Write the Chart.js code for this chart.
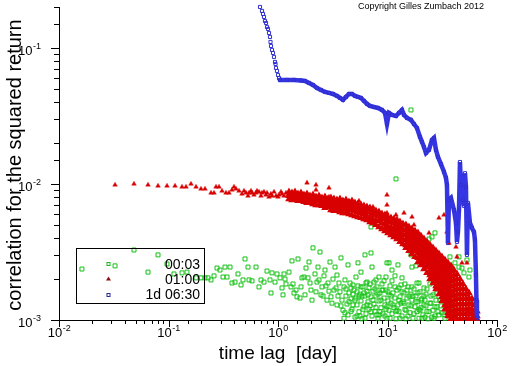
<!DOCTYPE html>
<html>
<head>
<meta charset="utf-8">
<script src="https://cdn.jsdelivr.net/npm/chart.js@4"></script>
<style>
  html, body { margin: 0; padding: 0; background: #fff; }
  canvas { display: block; }
</style>
</head>
<body>
<canvas id="corr-chart" width="512" height="366"></canvas>
<script>
// axis ranges and tick labels
const xRange = [0.01, 100];
const yRange = [0.001, 0.2];
const xTickExp = ['-2', '-1', '0', '1', '2'];
const yTickExp = ['-3', '-2', '-1'];
const seriesLabels = ['00:03', '01:00', '1d 06:30'];

// 00:03 series  [lag (day), correlation]
const green0003 = [
  [0.0162,0.00237],[0.0325,0.00250],[0.0484,0.00327],[0.0650,0.00225],[0.0802,0.00301],[0.0969,0.00258],
  [0.1122,0.00218],[0.1329,0.00222],[0.1475,0.00225],[0.1784,0.00204],[0.1981,0.00204],[0.2155,0.00204],
  [0.2295,0.00204],[0.2445,0.00197],[0.2604,0.00211],[0.2774,0.00241],[0.2954,0.00233],[0.3146,0.00207],
  [0.3281,0.00245],[0.3422,0.00207],[0.3645,0.00245],[0.3802,0.00187],[0.4049,0.00190],[0.4313,0.00218],
  [0.4594,0.00181],[0.4791,0.00197],[0.4997,0.00281],[0.5322,0.00245],[0.5435,0.00197],[0.5789,0.00194],
  [0.6297,0.00245],[0.6706,0.00175],[0.6994,0.00197],[0.7450,0.00190],[0.7935,0.00229],[0.8452,0.00197],
  [0.8632,0.00158],[0.8815,0.00222],[0.9388,0.00190],[0.9792,0.00218],[1.043,0.00204],[1.088,0.00172],
  [1.111,0.00153],[1.1345,0.00218],[1.159,0.00200],[1.183,0.00184],[1.260,0.00225],[1.314,0.00175],
  [1.342,0.00272],[1.371,0.00184],[1.400,0.00158],[1.460,0.00166],[1.491,0.00148],[1.523,0.00281],
  [1.588,0.00145],[1.656,0.00204],[1.727,0.00207],
  [1.802,0.00241],[1.919,0.00267],[1.960,0.00187],[2.001,0.00166],[2.087,0.00339],[2.177,0.00218],
  [2.270,0.00190],[2.319,0.00245],[2.418,0.00316],[2.470,0.00153],[2.522,0.00175],[2.630,0.00211],
  [2.686,0.00233],[2.802,0.00140],[2.861,0.00187],[2.922,0.00163],[2.984,0.00267],[3.047,0.00148],
  [3.112,0.00133],[3.178,0.00200],[3.315,0.00245],[3.385,0.00172],[3.457,0.00214],[3.531,0.00150],
  [3.606,0.00187],
  [1.622,0.00175],[1.764,0.00153],[1.879,0.00204],[2.044,0.00140],[2.223,0.00161],[2.368,0.00197],
  [2.576,0.00150],[2.743,0.00178],[3.246,0.00166],[3.457,0.00129],
  [3.760,0.00286],[4.090,0.00197],[4.357,0.00254],[4.640,0.00172],[4.840,0.00129],[5.155,0.00207],
  [5.376,0.00263],[5.726,0.00225],[6.228,0.00301],[6.496,0.00190],[7.066,0.00311],[7.216,0.00245],
  [7.066,0.00483],[7.849,0.00197],[8.360,0.00207],[8.904,0.00166],[9.685,0.00207],[9.891,0.00263],
  [3.682,0.00161],[3.840,0.00140],[3.922,0.00118],[4.005,0.00175],[4.177,0.00150],[4.266,0.00131],
  [4.357,0.00109],[4.449,0.00158],[4.544,0.00187],[4.640,0.00143],[4.739,0.00120],[4.942,0.00166],
  [5.047,0.00105],[5.155,0.00145],[5.264,0.00129],[5.376,0.00178],[5.490,0.00115],[5.607,0.00155],
  [5.726,0.00138],[5.848,0.00102],[5.972,0.00175],[6.099,0.00125],[6.228,0.00150],[6.361,0.00111],
  [6.496,0.00163],[6.634,0.00136],[6.775,0.00120],[6.919,0.00184],[7.066,0.00148],[7.216,0.00107],
  [7.369,0.00163],[7.526,0.00131],[7.686,0.00116],[7.849,0.00150],[8.016,0.00175],[8.186,0.00103],
  [8.360,0.00138],[8.537,0.00158],[8.719,0.00123],[8.904,0.00184],[9.093,0.00111],[9.286,0.00145],
  [9.484,0.00129],[9.685,0.00166],[9.891,0.00103],[10.10,0.00138],[10.32,0.00153],[10.32,0.00118],
  [4.090,0.00113],[4.840,0.00155],[5.264,0.00107],[5.848,0.00150],[6.361,0.00187],[6.919,0.00127],
  [7.686,0.00169],[8.360,0.00109],[9.286,0.00194],[9.891,0.00125],
  [3.760,0.00127],[4.005,0.00103],[4.177,0.00169],[4.449,0.00136],[4.640,0.00116],[4.840,0.00181],
  [5.047,0.00140],[5.264,0.00161],[5.490,0.00150],[5.607,0.00107],[5.726,0.00175],[5.972,0.00120],
  [6.099,0.00158],[6.228,0.00103],[6.496,0.00129],[6.634,0.00153],[6.775,0.00172],[7.066,0.00115],
  [7.369,0.00140],[7.526,0.00190],[7.849,0.00123],[8.016,0.00109],[8.186,0.00155],[8.537,0.00115],
  [8.719,0.00140],[9.093,0.00166],[9.484,0.00107],[9.685,0.00120],[10.10,0.00161],
  [10.32,0.00263],[10.99,0.00233],[11.70,0.00211],[11.95,0.01089],[12.46,0.00254],[12.73,0.00172],
  [13.56,0.00204],[16.38,0.0350],[16.38,0.00301],[16.73,0.00245],[18.20,0.00250],[19.38,0.00187],
  [21.53,0.00172],[23.92,0.00222],[24.43,0.00184],[23.92,0.00394],[25.47,0.00408],[27.13,0.00437],
  [21.99,0.00140],[28.30,0.00125],[29.51,0.00148],[29.51,0.00109],[32.78,0.00109],[34.19,0.00140],
  [10.54,0.00178],[10.76,0.00133],[10.99,0.00111],[11.22,0.00158],[11.46,0.00123],[11.70,0.00145],
  [11.95,0.00102],[12.21,0.00166],[12.46,0.00129],[12.73,0.00115],[13.00,0.00148],[13.28,0.00181],
  [13.56,0.00107],[13.85,0.00136],[14.14,0.00158],[14.44,0.00120],[14.75,0.00102],[15.06,0.00145],
  [15.38,0.00175],[15.71,0.00129],[16.04,0.00113],[16.38,0.00155],[16.73,0.00140],[17.09,0.00103],
  [17.45,0.00169],[17.82,0.00125],[18.20,0.00150],[18.59,0.00115],[18.98,0.00136],[19.38,0.00103],
  [19.79,0.00161],[20.21,0.00123],[20.64,0.00143],[21.08,0.00109],[21.53,0.00129],[22.46,0.00155],
  [22.93,0.00116],[23.42,0.00102],[24.43,0.00133],[24.94,0.00150],[26.02,0.00118],[26.57,0.00103],
  [27.71,0.00140],[28.90,0.00115],
  [10.99,0.00194],[12.21,0.00118],[13.28,0.00133],[14.44,0.00184],[15.38,0.00107],[17.09,0.00150],
  [18.59,0.00187],[19.79,0.00118],[21.99,0.00105],[25.47,0.00105],[27.13,0.00125],
  [10.54,0.00103],[10.76,0.00150],[11.22,0.00129],[11.70,0.00175],[11.95,0.00116],[12.73,0.00140],
  [13.00,0.00103],[13.56,0.00161],[14.14,0.00133],[14.75,0.00118],[15.06,0.00166],[15.71,0.00150],
  [16.38,0.00127],[16.73,0.00175],[17.45,0.00111],[18.20,0.00136],[18.98,0.00158],[19.38,0.00120],
  [20.21,0.00140],[20.64,0.00103],[21.53,0.00150],[22.46,0.00127],[22.93,0.00169],[23.92,0.00115],
  [24.94,0.00133],[26.02,0.00153],[27.13,0.00107],[28.30,0.00158],[30.14,0.00140],[31.43,0.00113],
  [34.19,0.00161],[34.92,0.00120],[37.19,0.00136],[38.79,0.00107],[41.31,0.00158],
  [30.78,0.00127],[32.10,0.00161],[33.48,0.00103],[35.66,0.00140],[37.19,0.00291],[37.98,0.00245],
  [40.45,0.00118],[41.31,0.00263],[43.09,0.00150],[44.94,0.00291],[44.94,0.00245],[46.87,0.00131],
  [47.86,0.00241],[49.92,0.00222],[50.98,0.00107],[53.17,0.00276],[55.45,0.00207],[56.63,0.00233],
  [59.06,0.00140],[61.60,0.00115]
];

// 01:00 series, sparse part and outliers  [lag, correlation]
const red0100 = [
  [0.0325,0.00985],[0.0484,0.0100],[0.0650,0.00985],[0.0802,0.00968],[0.0969,0.00968],[0.1147,0.00968],
  [0.1329,0.00952],[0.1445,0.00952],[0.1605,0.0100],[0.1784,0.00952],[0.1981,0.00920],[0.2155,0.00920],
  [0.2445,0.00860],[0.2604,0.00860],[0.2716,0.00952],[0.2893,0.00952],[0.3081,0.00889],[0.3351,0.00860],
  [0.3570,0.00860],[0.3802,0.00904],[0.3965,0.00952],[0.4135,0.00920],[0.4405,0.00889],[0.4691,0.00845],
  [0.4893,0.00889],[0.5103,0.00860],[0.5322,0.00817],[0.5434,0.00860],[0.5669,0.00889],[0.5789,0.00860],
  [0.6037,0.00831],[0.6297,0.00860],[0.6430,0.00889],[0.6706,0.00874],[0.6993,0.00817],[0.7143,0.00860],
  [0.7450,0.00874],[0.7770,0.00831],[0.7940,0.00860],[0.8277,0.00803],[0.8625,0.00845],[0.8815,0.00817],
  [0.9193,0.00874],[0.9588,0.00817],[1.000,0.00803],[1.021,0.00831],[1.065,0.00874],[1.088,0.00845],
  [1.1345,0.00817],[1.183,0.00860],[1.234,0.00831],
  [1.840,0.0102],[2.223,0.00985],[2.223,0.00904],[2.922,0.00936],[2.922,0.00803],[4.090,0.00738],
  [5.490,0.00751],[7.369,0.00678],[9.891,0.00831],[9.891,0.00701],[9.891,0.00612],[11.95,0.00592],
  [14.14,0.00612],[16.73,0.00572],[17.45,0.00500],[23.92,0.00436],[29.51,0.00563],[32.78,0.00592],
  [34.92,0.00444],[36.42,0.00368],[42.19,0.00344],[43.09,0.00291],[47.86,0.00263],[53.17,0.00263]
];

// 01:00 series, dense band: correlations read at each lag
const redBandLag = [
  1.260, 1.342, 1.430, 1.523, 1.622, 1.727, 1.840, 1.960, 2.087, 2.223, 2.368, 2.522, 2.686, 2.861,
  3.047, 3.246, 3.457, 3.682, 3.922, 4.177, 4.449, 4.739, 5.047, 5.376, 5.726, 6.099, 6.496, 6.919,
  7.369, 7.849, 8.360, 8.904, 9.484, 10.10, 10.76, 11.46, 12.21, 13.00, 13.85, 14.75, 15.71, 16.73,
  17.82, 18.98, 20.21, 21.53, 22.93, 24.43, 26.02, 27.71, 29.51, 31.43, 33.48, 35.66, 37.98, 40.45,
  43.09, 45.89, 48.88, 52.06, 55.45, 59.06, 62.91, 65.61
];
const redBandCorr = [
  [0.00874,0.00817,0.00776], [0.00860,0.00803,0.00763], [0.00874,0.00831,0.00776],
  [0.00845,0.00803,0.00751], [0.00860,0.00817,0.00763], [0.00831,0.00790,0.00738],
  [0.00845,0.00776,0.00726], [0.00817,0.00763,0.00726], [0.00831,0.00776,0.00713],
  [0.00803,0.00751,0.00701], [0.00817,0.00763,0.00701], [0.00790,0.00738,0.00690],
  [0.00803,0.00751,0.00701,0.00667], [0.00776,0.00726,0.00678],
  [0.00790,0.00738,0.00690,0.00644], [0.00776,0.00726,0.00678,0.00634],
  [0.00763,0.00713,0.00667,0.00634], [0.00776,0.00726,0.00678,0.00623],
  [0.00751,0.00701,0.00655,0.00612], [0.00763,0.00713,0.00667,0.00612],
  [0.00738,0.00690,0.00644,0.00602], [0.00751,0.00701,0.00655,0.00592],
  [0.00726,0.00678,0.00634,0.00582], [0.00713,0.00667,0.00623,0.00572],
  [0.00701,0.00655,0.00612,0.00563], [0.00690,0.00644,0.00602,0.00553],
  [0.00678,0.00634,0.00582,0.00544], [0.00667,0.00623,0.00572,0.00526],
  [0.00644,0.00602,0.00553,0.00517], [0.00634,0.00592,0.00544,0.00500],
  [0.00623,0.00582,0.00535,0.00483], [0.00602,0.00563,0.00517,0.00467],
  [0.00592,0.00553,0.00508,0.00475,0.00451], [0.00572,0.00535,0.00491,0.00459,0.00436],
  [0.00563,0.00526,0.00483,0.00451,0.00422], [0.00553,0.00517,0.00475,0.00436,0.00408],
  [0.00544,0.00500,0.00459,0.00422,0.00394], [0.00526,0.00483,0.00444,0.00408,0.00375],
  [0.00508,0.00467,0.00429,0.00394,0.00362], [0.00500,0.00459,0.00422,0.00388,0.00356,0.00339],
  [0.00483,0.00444,0.00408,0.00375,0.00344,0.00322], [0.00467,0.00429,0.00394,0.00362,0.00333,0.00306],
  [0.00451,0.00415,0.00381,0.00350,0.00322,0.00291],
  [0.00436,0.00401,0.00368,0.00339,0.00311,0.00286,0.00267],
  [0.00415,0.00381,0.00350,0.00322,0.00296,0.00272,0.00254],
  [0.00394,0.00362,0.00333,0.00306,0.00281,0.00258,0.00237],
  [0.00375,0.00344,0.00316,0.00291,0.00267,0.00245,0.00222],
  [0.00356,0.00327,0.00301,0.00276,0.00254,0.00233,0.00214,0.00200],
  [0.00339,0.00311,0.00286,0.00263,0.00241,0.00222,0.00204,0.00187],
  [0.00322,0.00296,0.00272,0.00250,0.00229,0.00211,0.00194,0.00178,0.00169],
  [0.00306,0.00281,0.00258,0.00237,0.00218,0.00200,0.00184,0.00169,0.00155],
  [0.00291,0.00267,0.00245,0.00225,0.00207,0.00190,0.00175,0.00161,0.00148,0.00138],
  [0.00276,0.00254,0.00233,0.00214,0.00197,0.00181,0.00166,0.00153,0.00140,0.00129,0.00120],
  [0.00263,0.00241,0.00222,0.00204,0.00187,0.00172,0.00158,0.00145,0.00133,0.00122,0.00113,0.00107],
  [0.00250,0.00229,0.00211,0.00194,0.00178,0.00163,0.00150,0.00138,0.00127,0.00116,0.00107,0.00102],
  [0.00233,0.00214,0.00197,0.00181,0.00166,0.00153,0.00140,0.00129,0.00118,0.00109,0.00102],
  [0.00218,0.00200,0.00184,0.00169,0.00155,0.00143,0.00131,0.00120,0.00111,0.00102],
  [0.00200,0.00184,0.00169,0.00155,0.00143,0.00131,0.00120,0.00111,0.00102],
  [0.00184,0.00169,0.00155,0.00143,0.00131,0.00120,0.00111,0.00102],
  [0.00169,0.00155,0.00143,0.00131,0.00120,0.00111,0.00102],
  [0.00158,0.00145,0.00133,0.00122,0.00113,0.00103],
  [0.00143,0.00131,0.00120,0.00111,0.00102],
  [0.00129,0.00118,0.00109,0.00102],
  [0.00116,0.00107,0.00102]
];

// 1d 06:30 series: steep start, then the dense tail
const blueSteep = [
  [0.6849,0.2001],[0.7143,0.1871],[0.7295,0.1778],[0.7450,0.1690],[0.7609,0.1579],[0.7770,0.1527],
  [0.7935,0.1427],[0.8104,0.1380],[0.8277,0.1289],[0.8452,0.1205],[0.8540,0.1107],[0.8632,0.1034],
  [0.8815,0.0967],[0.9002,0.0919],[0.9193,0.0859],[0.9388,0.0789],[0.9490,0.0763],[0.9588,0.0713],
  [0.9792,0.0678],[1.000,0.0633],[1.0213,0.0602]
];
const blueTail = [
  [1.043,0.0582],[1.208,0.0582],[1.400,0.0582],[1.622,0.0577],[1.764,0.0572],[1.919,0.0553],
  [2.087,0.0534],[2.270,0.0508],[2.470,0.0491],[2.686,0.0475],[2.922,0.0467],[3.178,0.0459],
  [3.457,0.0444],[3.682,0.0429],[3.922,0.0415],[4.177,0.0436],[4.449,0.0459],[4.739,0.0459],
  [5.047,0.0444],[5.376,0.0436],[5.726,0.0429],[6.099,0.0408],[6.496,0.0388],[6.919,0.0375],
  [7.526,0.0368],[8.186,0.0362],[8.904,0.0350],[9.484,0.0333],[9.891,0.0276],[10.32,0.0333],
  [10.99,0.0322],[11.95,0.0316],[12.73,0.0333],[13.56,0.0350],[14.14,0.0322],[15.06,0.0306],
  [16.38,0.0296],[17.45,0.0276],[18.59,0.0258],[19.79,0.0222],[20.64,0.0204],[21.53,0.0187],
  [22.46,0.0169],[23.92,0.0178],[25.47,0.0211],[26.57,0.0218],[27.71,0.0178],[28.90,0.0158],
  [30.78,0.0140],[32.78,0.0123],[34.19,0.0111],[34.92,0.00985],[35.66,0.00368],[36.42,0.00763],
  [37.98,0.00790],[40.45,0.00644],[42.19,0.00517],[43.09,0.00375],[44.00,0.00444],[44.94,0.00644],
  [45.89,0.0145],[46.87,0.00985],[48.88,0.00763],[49.92,0.00690],[50.98,0.0120],[52.06,0.00952],
  [53.17,0.00301],[54.30,0.00726],[56.63,0.00517],[59.06,0.00475],[61.60,0.00444],[62.91,0.00388],
  [64.24,0.00214],[64.90,0.00140],[65.61,0.00103]
];

const toXY = p => ({ x: p[0], y: p[1] });

const greenData = green0003.map(toXY);
const redData = red0100.map(toXY);
redBandLag.forEach((lag, i) => {
  redBandCorr[i].forEach(c => redData.push({ x: lag, y: c }));
});
const blueData = blueSteep.concat(blueTail).map(toXY);

const colGreen = '#14c214';
const colRed   = '#d80000';
const colBlue  = '#3535e4';

function isDecade(v) {
  const l = Math.log10(v);
  return Math.abs(l - Math.round(l)) < 1e-6;
}

// ticks, tick labels, titles, legend box and copyright
const decorPlugin = {
  id: 'decor',
  afterDraw(chart) {
    const { ctx, chartArea: a, scales: { x, y } } = chart;
    ctx.save();
    ctx.strokeStyle = '#000';
    ctx.lineWidth = 1;
    ctx.beginPath();
    x.ticks.forEach(t => {
      const px = Math.round(x.getPixelForValue(t.value)) + 0.5;
      const len = isDecade(t.value) ? 7 : 4;
      ctx.moveTo(px, a.bottom);
      ctx.lineTo(px, a.bottom + len);
    });
    y.ticks.forEach(t => {
      const py = Math.round(y.getPixelForValue(t.value)) + 0.5;
      const len = isDecade(t.value) ? 8 : 5;
      ctx.moveTo(a.left, py);
      ctx.lineTo(a.left - len, py);
    });
    ctx.stroke();

    const baseFont = '13px "Liberation Sans", Arial, sans-serif';
    const supFont  = '9px "Liberation Sans", Arial, sans-serif';
    ctx.fillStyle = '#000';
    ctx.textBaseline = 'alphabetic';

    xTickExp.forEach(e => {
      const px = x.getPixelForValue(Math.pow(10, Number(e)));
      ctx.font = baseFont;
      const w1 = ctx.measureText('10').width;
      ctx.font = supFont;
      const w2 = ctx.measureText(e).width;
      const start = px - (w1 + w2) / 2;
      ctx.textAlign = 'left';
      ctx.font = baseFont;
      ctx.fillText('10', start, a.bottom + 17);
      ctx.font = supFont;
      ctx.fillText(e, start + w1 + 0.5, a.bottom + 11);
    });

    yTickExp.forEach(e => {
      const py = y.getPixelForValue(Math.pow(10, Number(e)));
      const right = a.left - 18;
      ctx.font = supFont;
      const w2 = ctx.measureText(e).width;
      ctx.textAlign = 'right';
      ctx.fillText(e, right, py + 1);
      ctx.font = baseFont;
      ctx.fillText('10', right - w2 - 0.5, py + 7);
    });

    // axis titles
    ctx.font = '19px "Liberation Sans", Arial, sans-serif';
    ctx.textAlign = 'center';
    ctx.fillText('time lag  [day]', (a.left + a.right) / 2, 359);
    ctx.save();
    ctx.translate(21, 165);
    ctx.rotate(-Math.PI / 2);
    ctx.font = '20px "Liberation Sans", Arial, sans-serif';
    ctx.fillText('correlation for the squared return', 0, 0);
    ctx.restore();

    // copyright
    ctx.font = '9px "Liberation Sans", Arial, sans-serif';
    ctx.textAlign = 'left';
    ctx.fillText('Copyright Gilles Zumbach 2012', 358, 9);

    // legend
    ctx.strokeStyle = '#000';
    ctx.strokeRect(76.5, 248.5, 128, 55);
    const rows = [265, 280, 295];
    const mx = 108.5;
    ctx.lineWidth = 1;
    ctx.strokeStyle = colGreen;
    ctx.strokeRect(mx - 1.5, rows[0] - 2.5, 3, 3);
    ctx.fillStyle = '#8a1010';
    ctx.beginPath();
    ctx.moveTo(mx, rows[1] - 3.5);
    ctx.lineTo(mx + 2.5, rows[1] + 0.5);
    ctx.lineTo(mx - 2.5, rows[1] + 0.5);
    ctx.closePath();
    ctx.fill();
    ctx.strokeStyle = '#2a2a9a';
    ctx.strokeRect(mx - 1.5, rows[2] - 1.5, 3, 3);
    ctx.fillStyle = '#000';
    ctx.font = '14px "Liberation Sans", Arial, sans-serif';
    ctx.textAlign = 'right';
    seriesLabels.forEach((lbl, i) => {
      ctx.fillText(lbl, 200, rows[i] + 4);
    });
    ctx.restore();
  }
};

// the scattered points are drawn a little smaller than the packed band
const redSparseCount = red0100.length;

const ctx = document.getElementById('corr-chart').getContext('2d');
new Chart(ctx, {
  type: 'scatter',
  data: {
    datasets: [
      {
        label: seriesLabels[0],
        data: greenData,
        pointStyle: 'rect',
        pointRadius: 2.8,
        borderWidth: 1,
        borderColor: colGreen,
        backgroundColor: 'transparent',
        order: 3,
        clip: false
      },
      {
        label: seriesLabels[1],
        data: redData,
        pointStyle: 'triangle',
        pointRadius: c => (c.dataIndex < redSparseCount ? 2.7 : 3.2),
        borderWidth: c => (c.dataIndex < redSparseCount ? 0.4 : 1.2),
        borderColor: colRed,
        backgroundColor: colRed,
        order: 2,
        clip: false
      },
      {
        label: seriesLabels[2],
        data: blueData,
        showLine: true,
        borderColor: colBlue,
        borderWidth: 4.5,
        tension: 0,
        segment: {
          borderColor: c => (c.p0DataIndex < blueSteep.length - 1 ? 'transparent' : undefined)
        },
        pointStyle: 'rect',
        pointRadius: 2.2,
        pointBorderWidth: 1,
        pointBorderColor: '#3030d0',
        pointBackgroundColor: 'transparent',
        order: 1,
        clip: false
      }
    ]
  },
  options: {
    responsive: false,
    animation: false,
    events: [],
    layout: { padding: { left: 59, right: 15, top: 7, bottom: 46 } },
    plugins: {
      legend: { display: false },
      tooltip: { enabled: false }
    },
    scales: {
      x: {
        type: 'logarithmic',
        min: xRange[0], max: xRange[1],
        ticks: { display: false },
        grid: { display: false, drawTicks: false, tickLength: 0 },
        border: { display: true, color: '#000', width: 1 }
      },
      y: {
        type: 'logarithmic',
        min: yRange[0], max: yRange[1],
        ticks: { display: false },
        grid: { display: false, drawTicks: false, tickLength: 0 },
        border: { display: true, color: '#000', width: 1 }
      }
    }
  },
  plugins: [decorPlugin]
});
</script>
</body>
</html>
